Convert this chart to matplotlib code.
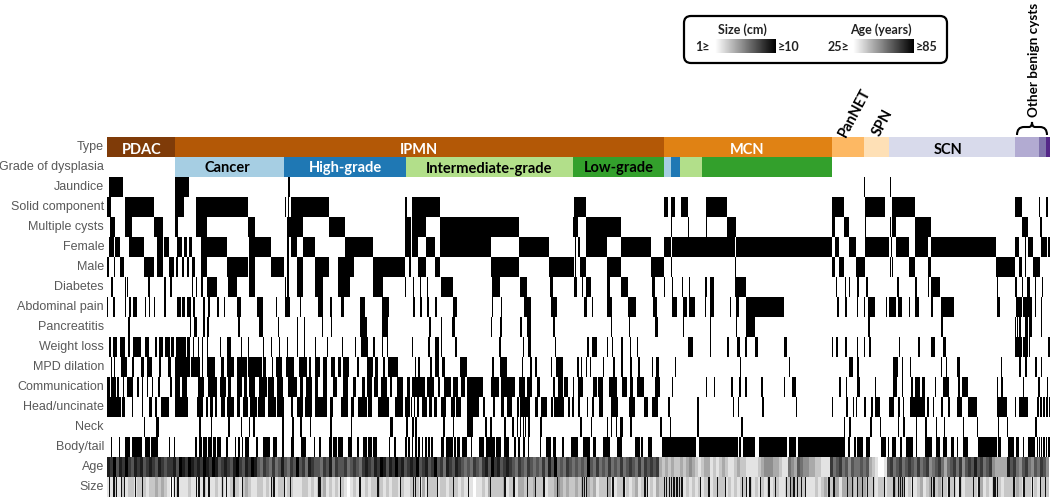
import numpy as np
import matplotlib
matplotlib.use('Agg')
import matplotlib.pyplot as plt
from matplotlib.patches import FancyBboxPatch, PathPatch
from matplotlib.path import Path

row_names = ['Type', 'Grade of dysplasia', 'Jaundice', 'Solid component', 'Multiple cysts', 'Female', 'Male',
             'Diabetes', 'Abdominal pain', 'Pancreatitis', 'Weight loss', 'MPD dilation', 'Communication',
             'Head/uncinate', 'Neck', 'Body/tail', 'Age', 'Size']

# cohort order is the x axis, one unit = one column of the heat map
type_edges = [107, 175, 663.5, 832, 864, 889, 1015, 1039, 1046, 1050]
type_colors = ['#7f3b08', '#b35806', '#e08214', '#fdb863', '#fee0b6', '#d8daeb', '#b2abd2', '#8073ac', '#542788']
grade_edges = [175, 284, 405.5, 572.5, 663.5, 671, 680, 702, 832]
grade_colors = ['#a6cee3', '#1f78b4', '#b2df8a', '#33a02c', '#a6cee3', '#1f78b4', '#b2df8a', '#33a02c']

jaundice = [(109, 123), (175, 189), (287.5, 289.5), (864, 865), (889.5, 891)]
solid = [(107, 111), (125, 154), (175, 184), (196, 248), (284.5, 285.5), (288, 289), (291, 329), (405, 407),
         (412, 440), (574, 586), (664, 668), (671, 675), (681, 688), (706, 727), (832, 844), (865, 885),
         (892, 915), (1015, 1022), (1039, 1040), (1046, 1048)]
multiple = [(110, 115), (125, 132), (154, 163), (175, 178), (196, 207), (248, 255), (284.5, 285), (287, 303),
            (329, 345), (405, 411), (412, 426), (440, 519), (573, 578), (586, 621), (671, 672), (688, 689),
            (706, 707), (727, 736), (832, 835), (844, 849), (865, 866), (889.5, 891), (892, 896), (915, 931),
            (1022, 1028), (1040, 1042)]
female = [(109, 114), (115, 120), (129, 144), (157, 163), (164, 169), (177, 182), (184, 187), (189, 192),
          (201, 227), (249, 271), (287, 289), (291, 297), (303, 315), (345, 373), (405, 411), (412, 418),
          (426, 435), (440, 491), (519, 549), (575, 576), (578, 580), (586, 607), (621, 651), (664, 671),
          (672, 735), (736, 832), (835, 839), (849, 856), (865, 889), (891, 892), (896, 909), (915, 928),
          (931, 996), (1015, 1019), (1025, 1026), (1028, 1033), (1041, 1047), (1048, 1050)]
male = [(107, 109), (114, 115), (120, 124), (144, 154), (157, 163), (169, 174), (176, 178), (182, 184),
        (187, 189), (192, 195), (201, 207), (227, 248), (249, 255), (271, 284), (287, 289), (297, 303),
        (315, 329), (338, 354), (373, 405), (409, 411), (418, 426), (435, 440), (491, 519), (549, 574),
        (575, 576), (580, 586), (607, 621), (651, 664), (671, 672), (735, 736), (832, 835), (839, 844),
        (856, 865), (889.5, 891), (892, 893), (909, 915), (928, 931), (996, 1015), (1019, 1022), (1025, 1026),
        (1033, 1040)]
diabetes = [(111, 112.5), (125, 126), (126.5, 128), (148, 150), (164, 166), (170, 171.5), (191.5, 193),
            (195.5, 197), (201, 202.5), (207, 217), (227.5, 237), (249, 255), (284.5, 285.5), (287, 289),
            (297, 303), (315, 323), (338, 350), (373, 383), (405, 406), (413, 414), (420, 421), (427, 428),
            (440.5, 452.5), (491.5, 499.5), (519.5, 526.5), (550, 552.5), (574, 576.5), (581.5, 583),
            (586, 591), (607, 610), (621, 628), (652, 655), (664, 665), (672, 673), (681.5, 682.5),
            (688.5, 690), (705, 706.5), (710, 714), (735, 745.5), (836, 837), (845, 846), (849, 850),
            (857, 858.5), (866, 868), (897, 899), (915, 917), (928, 929), (931, 940), (997, 998),
            (1015, 1017), (1021.5, 1023), (1027, 1030), (1035, 1036), (1041.5, 1043)]
abdominal = [(107, 108), (113, 115), (125, 126), (129, 131), (133, 137), (145, 146), (149, 150), (154, 155),
             (164, 166), (177, 181), (182, 185), (187, 191), (193, 195), (203, 205), (208, 210), (217, 219),
             (224, 225), (237, 241), (257, 263), (276, 277), (285, 290), (300, 301), (318, 323), (330, 332),
             (341, 344), (360, 365), (382, 389), (413, 415), (420, 422), (427, 429), (435, 437), (453, 457),
             (492, 493), (501, 502), (524, 531), (551, 557), (584, 587), (592, 593), (607, 612), (628, 636),
             (653, 657), (672, 677), (683, 687), (689, 695), (705, 706), (710, 714), (730, 731), (736, 739),
             (746, 784), (837, 839), (845, 847), (857, 858), (864, 865), (868, 875), (886, 887), (889, 896),
             (898, 902), (909, 910), (915, 919), (931, 933), (941, 954), (997, 1000), (1016, 1022),
             (1023, 1032), (1035, 1036), (1041, 1042)]
pancreatitis = [(128, 130), (190, 191), (194, 197), (203, 205), (207, 209), (238, 240), (259, 263), (278, 279),
                (297, 298), (304, 305), (322, 323), (331, 332), (360, 367), (382, 388), (429, 431), (441, 442),
                (452, 455), (491, 492), (500, 502), (520, 522), (527, 531), (553, 555), (611, 612), (629, 630),
                (655, 658), (683, 684), (710, 711), (736, 737), (746, 755), (868, 870), (941, 943),
                (1015, 1016), (1017, 1018), (1019, 1021), (1025, 1028), (1029, 1032), (1041, 1042)]
weight_loss = [(109, 111), (113, 117), (120, 125), (128, 130), (133, 141), (145, 149), (155, 157), (159, 163),
               (165, 170), (171, 174), (176, 186), (186.5, 190), (193, 194), (198, 199), (202, 203), (207, 208),
               (220, 221), (227, 231), (241, 242), (248, 249), (263, 264), (271, 272), (279, 280), (287, 288),
               (297, 298), (304, 305), (315, 316), (327, 328), (342, 343), (355, 356), (361, 368), (373, 375),
               (382, 383), (387, 388), (412, 413), (428, 430), (435, 439), (441, 442), (455, 457), (499, 501),
               (523, 524), (528, 531), (555, 556), (587, 589), (592, 597), (607, 608), (612, 613), (621, 623),
               (630, 631), (637, 638), (688, 693), (709.5, 711), (727, 729), (737, 740), (745, 747), (755, 758),
               (784, 787), (832, 833), (836, 838), (845, 847), (857, 858), (864, 865), (869, 871), (899, 900),
               (918, 920), (931, 935), (943, 946), (1015, 1022), (1023, 1028), (1029, 1030), (1048, 1050)]
mpd = [(111, 112), (114, 115), (121, 127), (132, 134), (141, 144), (147, 152), (159, 161), (168, 171), (175, 190),
       (191, 200), (202, 203), (207, 215), (221, 224), (227, 234), (237, 247), (248, 262), (263, 266), (272, 273),
       (276, 282), (286, 294), (299, 307), (309, 311), (315, 320), (323, 327), (331, 335), (338, 341), (343, 349),
       (357, 359), (367, 373), (375, 378), (383, 385), (388, 398), (415, 416), (418, 420), (430, 432), (435, 439),
       (442, 445), (460, 467), (492, 494), (500, 507), (522, 523), (530, 532), (535, 537), (551, 552), (556, 563),
       (577, 579), (581, 582), (586, 587), (590, 591), (603, 604), (613, 615), (621, 623), (630, 632), (638, 640),
       (652, 653), (656, 659), (675, 676), (740, 741), (789, 790), (849, 853), (857, 858.5), (893, 898), (902, 903),
       (910, 911), (941, 942), (946, 947), (957, 960), (1000.5, 1002), (1019, 1020.5), (1025, 1027), (1035, 1037),
       (1041, 1042)]
communication = [(107, 110), (111, 116), (117, 119), (123, 124), (127, 133), (137, 139), (142, 143), (147, 148),
                 (152, 153), (158, 160), (170, 172), (175, 180), (182, 187), (198, 204), (208, 217), (220, 226),
                 (228, 231), (237, 242), (244, 247), (249, 255), (259, 267), (268, 274), (277, 283), (288, 297),
                 (300, 303), (306, 312), (315, 318), (323, 327), (333, 337), (343, 348), (353, 356), (362, 365),
                 (367, 372), (374, 378), (381, 387), (390, 392), (397, 403), (407, 410), (412, 425), (427, 434),
                 (438, 440), (444, 451), (453, 458), (461, 465), (467, 483), (491, 499), (501, 507), (507, 515),
                 (519, 525), (527, 532), (537, 540), (553, 555), (558, 563), (564, 568), (573, 574), (578, 583),
                 (593, 597), (598, 603), (609, 617), (622, 627), (630, 633), (637, 644), (655, 660), (672, 673),
                 (706, 707), (714, 715), (731, 733), (739, 741), (745, 747), (761, 763), (784, 785), (792, 796),
                 (839, 841), (846, 847), (857, 860), (875, 876), (893, 897), (902, 903), (911, 913), (915, 920),
                 (922, 925), (935, 936), (943, 949), (958, 960), (962, 968), (997, 998), (1001, 1003), (1023, 1024),
                 (1038, 1040), (1047, 1048)]
head = [(107, 121), (122, 125), (132, 133), (142, 143), (149, 152), (155, 157), (161, 169), (175, 188), (197, 203),
        (206, 208), (210, 213), (215, 217), (221, 225), (227, 234), (237, 240), (243, 248), (250, 257), (258, 265),
        (268, 276), (277, 284), (291, 293), (297, 303), (305, 312), (315, 327), (330, 333), (341, 348), (351, 354),
        (358, 367), (368, 372), (378, 389), (395, 403), (405, 410), (411, 412), (414, 415), (417, 419), (422, 427),
        (429, 432), (434, 437), (441, 446), (451, 455), (456, 461), (467, 479), (483, 485), (493, 495), (501, 504),
        (507, 512), (517, 519), (520, 527), (527, 530), (535, 538), (541, 547), (551, 553), (554, 558), (558, 564),
        (568, 570), (572, 574), (578, 580), (587, 588), (592, 594), (599, 603), (611, 618), (629, 635), (644, 648),
        (652, 658), (668, 670), (697, 699), (733, 734), (738, 739), (762, 764), (796, 797), (832, 833), (846, 848),
        (853, 854), (856, 857), (864, 866), (871, 873), (875, 880), (889, 894), (898, 900), (903, 904), (910, 913),
        (913, 925), (927, 929), (933, 934), (941, 943), (948, 950), (957, 962), (968, 977), (997, 1007), (1015, 1016),
        (1019, 1028), (1037, 1039), (1040, 1042), (1043, 1045), (1046, 1048), (1049, 1050)]
neck = [(144, 145), (156, 159), (199, 201), (211, 212), (228, 230), (241, 242), (249, 250), (253, 255), (282, 284),
        (292, 294), (300, 302), (310, 311), (330, 332), (351, 352), (390, 393), (406, 408), (415, 417), (412, 414),
        (443, 445), (453, 454), (467, 473), (485, 487), (490, 492), (504, 506), (512, 514), (517, 518), (520, 521),
        (523, 524), (525, 526), (528, 530), (525, 526), (540, 542), (580, 582), (591, 592), (607, 608), (611, 612),
        (616, 617), (620, 623), (630, 632), (660, 662), (670, 671), (697, 699), (741, 743), (844, 845), (849, 851),
        (870, 872), (880, 881), (898, 899), (903, 905), (916, 917), (925, 927), (936, 937), (944, 945), (963, 964),
        (977, 978), (998, 999), (1007, 1008), (1035, 1037)]
body_tail = [(111, 112), (119, 120), (125, 130), (132, 142), (145, 150), (151, 158), (169, 170), (174, 175),
             (195, 197), (199, 202), (203, 207), (208, 212), (213, 216), (217, 221), (226, 228), (235, 236), (238, 240),
             (242, 243), (245, 249), (256, 258), (263, 270), (273, 277), (282, 284), (291, 294), (301, 306), (314, 315),
             (319, 321), (329, 332), (333, 337), (338, 343), (348, 352), (357, 359), (363, 367), (368, 372), (373, 377),
             (389, 390), (394, 396), (405, 407), (408, 410), (412, 413), (415, 417), (418, 420), (422, 423), (425, 427),
             (428, 430), (431, 433), (441, 444), (446, 453), (454, 456), (457, 460), (462, 467), (471, 472), (479, 484),
             (486, 495), (496, 501), (504, 509), (514, 516), (518, 520), (523, 525), (528, 529), (540, 541), (546, 551),
             (553, 556), (562, 564), (571, 578), (583, 590), (593, 596), (603, 610), (617, 622), (635, 640), (641, 643),
             (648, 652), (662, 668.5), (669, 695.5), (699, 730), (730, 738), (739, 741), (743, 755), (759, 787),
             (789, 796), (798, 845), (848, 850), (854, 856), (857, 863), (866, 870), (881, 885.5), (888, 889),
             (892, 896), (900, 902), (906, 913), (916, 917), (925, 932), (936, 940), (943, 947), (951, 954), (957, 958),
             (963, 968), (978, 997), (998, 1001), (1008, 1014), (1016, 1019), (1023, 1024), (1028, 1035),
             (1037, 1038), (1039, 1040), (1041, 1042), (1043, 1045), (1046, 1047), (1048, 1050)]

# 0 = white, 9 = black, one reading every three columns from column 107
age_levels = [8, 7, 9, 6, 8, 7, 9, 7, 6, 8, 7, 8, 6, 7, 8, 7, 6, 8, 7, 6, 7, 7, 8, 6, 9, 8, 7, 9, 8, 7,
              8, 7, 9, 8, 7, 9, 8, 6, 7, 8, 7, 6, 8, 9, 7, 6, 8, 7, 9, 8, 6, 5, 7, 6, 5, 7, 5, 6, 8, 6,
              5, 7, 6, 9, 6, 7, 5, 8, 7, 6, 6, 5, 7, 6, 8, 5, 7, 6, 6, 7, 5, 6, 7, 6, 5, 7, 8, 7, 6, 8,
              7, 9, 8, 6, 8, 7, 9, 7, 8, 6, 7, 8, 7, 9, 6, 7, 8, 6, 7, 9, 6, 7, 5, 8, 7, 6, 8, 7, 6, 5,
              6, 5, 7, 6, 5, 7, 8, 6, 9, 7, 8, 6, 7, 8, 7, 6, 5, 7, 6, 5, 7, 6, 5, 6, 5, 7, 5, 8, 6, 9,
              5, 6, 5, 7, 6, 5, 6, 5, 6, 5, 9, 6, 5, 7, 5, 6, 5, 7, 5, 6, 5, 7, 5, 6, 7, 6, 5, 7, 5, 7,
              6, 7, 6, 7, 3, 2, 3, 2, 3, 2, 2, 3, 2, 3, 4, 3, 2, 1, 2, 3, 3, 1, 2, 1, 2, 3, 2, 1, 1, 2,
              3, 2, 2, 1, 1, 1, 1, 2, 3, 4, 4, 4, 3, 3, 2, 1, 1, 5, 4, 3, 6, 5, 4, 4, 3, 3, 2, 2, 1, 1,
              1, 7, 5, 6, 7, 5, 6, 4, 6, 5, 5, 6, 5, 6, 3, 2, 1, 0, 0, 1, 6, 7, 5, 6, 7, 5, 6, 7, 6, 5,
              7, 5, 6, 7, 4, 5, 6, 7, 5, 3, 5, 6, 7, 5, 7, 4, 6, 7, 6, 8, 6, 7, 5, 6, 7, 4, 3, 3, 3, 3,
              8, 6, 7, 5, 4, 6, 7, 5, 4, 6, 5, 7, 6, 4]
size_levels = [1, 1, 2, 1, 1, 2, 1, 2, 2, 1, 2, 2, 2, 1, 2, 2, 3, 2, 3, 2, 1, 0, 1, 2, 1, 1, 1, 2, 1, 1,
               1, 1, 2, 1, 1, 1, 2, 1, 2, 1, 1, 2, 2, 2, 1, 2, 3, 2, 1, 1, 2, 2, 1, 2, 1, 2, 1, 2, 2, 1,
               2, 2, 1, 1, 1, 2, 2, 1, 2, 1, 2, 2, 3, 1, 2, 1, 2, 1, 2, 1, 0, 1, 2, 1, 1, 1, 2, 1, 2, 2,
               3, 2, 1, 2, 1, 2, 2, 1, 2, 1, 1, 2, 2, 2, 1, 3, 1, 2, 2, 2, 1, 2, 2, 1, 2, 2, 2, 1, 2, 1,
               1, 1, 0, 1, 1, 2, 1, 3, 2, 2, 2, 2, 3, 1, 2, 2, 1, 3, 3, 2, 2, 2, 3, 2, 2, 2, 1, 2, 2, 3,
               4, 3, 2, 3, 2, 2, 3, 2, 3, 2, 3, 2, 3, 1, 2, 2, 2, 3, 1, 1, 2, 2, 1, 2, 1, 2, 3, 1, 2, 2,
               1, 2, 1, 3, 2, 2, 2, 2, 2, 2, 2, 2, 1, 2, 1, 2, 1, 2, 1, 2, 2, 1, 2, 2, 2, 2, 1, 2, 1, 2,
               1, 2, 2, 1, 2, 1, 2, 1, 2, 1, 2, 1, 2, 2, 1, 1, 2, 2, 3, 2, 2, 2, 2, 1, 1, 1, 2, 1, 2, 3,
               2, 2, 3, 3, 1, 3, 3, 3, 3, 2, 3, 3, 3, 2, 2, 2, 1, 2, 2, 1, 2, 2, 3, 2, 3, 3, 1, 2, 1, 1,
               2, 3, 1, 2, 3, 2, 2, 3, 2, 2, 1, 2, 2, 1, 2, 1, 2, 2, 2, 2, 1, 3, 1, 2, 1, 2, 2, 2, 1, 2,
               2, 2, 2, 3, 2, 1, 2, 2, 1, 2, 1, 2, 2, 2]
size_dark = [109, 113.3, 115.7, 120.7, 124, 135, 141.7, 170.7, 174, 177.3, 195.7, 198.3, 203.3, 208.3, 221.7, 226,
             233.3, 241.7, 270.7, 273.3, 284, 290, 318.3, 319.3, 320, 340, 359.3, 377.3, 400, 415, 413, 420, 427,
             436.7, 453, 468, 490, 504.3, 513.3, 526.7, 535, 543.3, 556.7, 582, 584, 586, 606.7, 612.3, 623.3,
             644.3, 646.7, 663.5, 666, 669, 671, 672.5, 674, 675.5, 677, 679, 680.5, 682, 700, 708.3, 716.7, 725,
             741.7, 745.7, 749.3, 760, 768.3, 775, 785.7, 790, 793.3, 796.7, 800.7, 805, 828.3, 833.3, 846.7,
             851.7, 856.7, 861.7, 866.7, 872.7, 884, 893.3, 898, 900, 902, 904, 911.7, 930.7, 933.3, 941.7, 948.3,
             954, 959.3, 972.7, 978.3, 993.3, 995, 996.7, 1013.3, 1023.3, 1031.7, 1040, 1045]

binary_rows = [jaundice, solid, multiple, female, male, diabetes, abdominal, pancreatitis, weight_loss, mpd,
               communication, head, neck, body_tail]

plt.rcParams['font.family'] = ['Lato', 'DejaVu Sans']

fig = plt.figure(figsize=(10.5, 4.99), dpi=100)
ax = fig.add_axes([0, 0, 1, 1])
ax.set_xlim(0, 1050)
ax.set_ylim(499, 0)
ax.axis('off')

row_h = 20
top = 137

for i in range(len(type_colors)):
    ax.broken_barh([(type_edges[i], type_edges[i+1]-type_edges[i])], (top, row_h), facecolors=type_colors[i], lw=0)
for i in range(len(grade_colors)):
    ax.broken_barh([(grade_edges[i], grade_edges[i+1]-grade_edges[i])], (top+row_h, row_h), facecolors=grade_colors[i], lw=0)

for i, spans in enumerate(binary_rows):
    bars = [(s, e-s) for s, e in spans]
    ax.broken_barh(bars, (top+row_h*(i+2), row_h), facecolors='black', lw=0)

step = 3
for levels, r in [(age_levels, 16), (size_levels, 17)]:
    y0 = top+row_h*r
    xs = type_edges[0]+step*np.arange(len(levels)+1)
    ax.pcolormesh(xs, [y0, y0+row_h], np.array([levels]), cmap='gray_r', vmin=0, vmax=9, shading='flat')
ax.broken_barh([(x, 1.2) for x in size_dark], (top+row_h*17, row_h), facecolors='#111111', lw=0)

for i, name in enumerate(row_names):
    ax.text(104, top+row_h*i+10, name, ha='right', va='center', fontsize=9.0, color='#595959',
            family=['Liberation Sans', 'DejaVu Sans'])

# names on the coloured bars
bar_labels = [('PDAC', 142, 150, 'white'), ('IPMN', 419, 150, 'white'), ('MCN', 747, 150, 'white'),
              ('SCN', 948, 150, 'black'), ('Cancer', 227, 168, 'black'), ('High-grade', 345, 168, 'white'),
              ('Intermediate-grade', 489, 169, 'black'), ('Low-grade', 619, 168, 'black')]
for txt, x, y, c in bar_labels:
    ax.text(x, y, txt, ha='center', va='center', fontsize=10.5, fontweight='bold', color=c)

ax.text(855, 113, 'PanNET', rotation=62, ha='center', va='center', fontsize=10.5, fontweight='bold')
ax.text(883, 123, 'SPN', rotation=62, ha='center', va='center', fontsize=10.5, fontweight='bold')
ax.text(1034, 117, 'Other benign cysts', rotation=90, ha='center', va='bottom', fontsize=9.7, fontweight='bold')

# brace over the other benign cysts
brace = Path([(1017, 135), (1017, 127), (1024, 127), (1029, 127), (1032, 127), (1032, 122),
              (1032, 127), (1035, 127), (1040, 127), (1047, 127), (1047, 135)],
             [Path.MOVETO, Path.CURVE3, Path.CURVE3, Path.LINETO, Path.CURVE3, Path.CURVE3,
              Path.CURVE3, Path.CURVE3, Path.LINETO, Path.CURVE3, Path.CURVE3])
ax.add_patch(PathPatch(brace, fc='none', ec='black', lw=1.5))

# legend box
ax.add_patch(FancyBboxPatch((684, 16), 263, 47, boxstyle='round,pad=0,rounding_size=7', fc='white', ec='black', lw=1.6))
ramp = np.linspace(0, 1, 64).reshape(1, -1)
ax.imshow(ramp, extent=(715, 776, 53, 39), cmap='gray_r', aspect='auto', vmin=0, vmax=1, zorder=3)
ax.imshow(ramp, extent=(853, 914, 53, 39), cmap='gray_r', aspect='auto', vmin=0, vmax=1, zorder=3)
ax.set_xlim(0, 1050)
ax.set_ylim(499, 0)
legend_labels = [('Size (cm)', 742, 30), ('Age (years)', 881, 30), ('1≥', 702, 47), ('≥10', 789, 47),
                 ('25≥', 838, 47), ('≥85', 927, 47)]
for txt, x, y in legend_labels:
    ax.text(x, y, txt, ha='center', va='center', fontsize=9, fontweight='bold', color='#222222')

plt.savefig('out.png', dpi=100)
